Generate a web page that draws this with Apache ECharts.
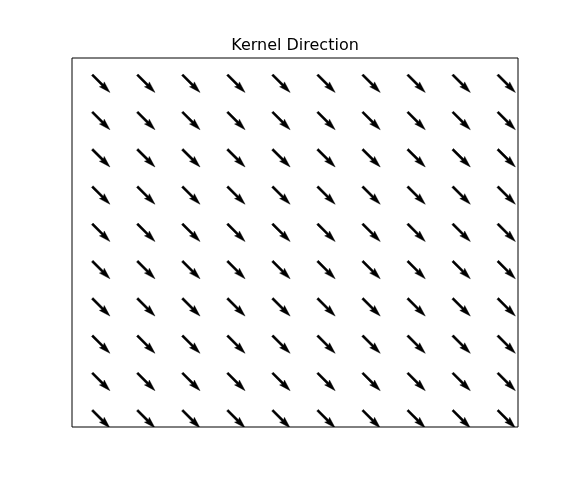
<!DOCTYPE html>
<html>
<head>
<meta charset="utf-8">
<script src="https://cdn.jsdelivr.net/npm/echarts@6/dist/echarts.min.js"></script>
<style>html,body{margin:0;padding:0;background:#fff;}#c{width:576px;height:480px;}</style>
</head>
<body>
<div id="c"></div>
<script>
const titleText = "Kernel Direction";
const xValues = [0, 1, 2, 3, 4, 5, 6, 7, 8, 9];
const yValues = [0, 1, 2, 3, 4, 5, 6, 7, 8, 9];
// U and V components: rows indexed by y, columns by x
const U = [
  [0.7071,0.7071,0.7071,0.7071,0.7071,0.7071,0.7071,0.7071,0.7071,0.7071],
  [0.7071,0.7071,0.7071,0.7071,0.7071,0.7071,0.7071,0.7071,0.7071,0.7071],
  [0.7071,0.7071,0.7071,0.7071,0.7071,0.7071,0.7071,0.7071,0.7071,0.7071],
  [0.7071,0.7071,0.7071,0.7071,0.7071,0.7071,0.7071,0.7071,0.7071,0.7071],
  [0.7071,0.7071,0.7071,0.7071,0.7071,0.7071,0.7071,0.7071,0.7071,0.7071],
  [0.7071,0.7071,0.7071,0.7071,0.7071,0.7071,0.7071,0.7071,0.7071,0.7071],
  [0.7071,0.7071,0.7071,0.7071,0.7071,0.7071,0.7071,0.7071,0.7071,0.7071],
  [0.7071,0.7071,0.7071,0.7071,0.7071,0.7071,0.7071,0.7071,0.7071,0.7071],
  [0.7071,0.7071,0.7071,0.7071,0.7071,0.7071,0.7071,0.7071,0.7071,0.7071],
  [0.7071,0.7071,0.7071,0.7071,0.7071,0.7071,0.7071,0.7071,0.7071,0.7071]
];
const V = [
  [-0.7071,-0.7071,-0.7071,-0.7071,-0.7071,-0.7071,-0.7071,-0.7071,-0.7071,-0.7071],
  [-0.7071,-0.7071,-0.7071,-0.7071,-0.7071,-0.7071,-0.7071,-0.7071,-0.7071,-0.7071],
  [-0.7071,-0.7071,-0.7071,-0.7071,-0.7071,-0.7071,-0.7071,-0.7071,-0.7071,-0.7071],
  [-0.7071,-0.7071,-0.7071,-0.7071,-0.7071,-0.7071,-0.7071,-0.7071,-0.7071,-0.7071],
  [-0.7071,-0.7071,-0.7071,-0.7071,-0.7071,-0.7071,-0.7071,-0.7071,-0.7071,-0.7071],
  [-0.7071,-0.7071,-0.7071,-0.7071,-0.7071,-0.7071,-0.7071,-0.7071,-0.7071,-0.7071],
  [-0.7071,-0.7071,-0.7071,-0.7071,-0.7071,-0.7071,-0.7071,-0.7071,-0.7071,-0.7071],
  [-0.7071,-0.7071,-0.7071,-0.7071,-0.7071,-0.7071,-0.7071,-0.7071,-0.7071,-0.7071],
  [-0.7071,-0.7071,-0.7071,-0.7071,-0.7071,-0.7071,-0.7071,-0.7071,-0.7071,-0.7071],
  [-0.7071,-0.7071,-0.7071,-0.7071,-0.7071,-0.7071,-0.7071,-0.7071,-0.7071,-0.7071]
];

const data = [];
yValues.forEach((y, j) => {
  xValues.forEach((x, i) => {
    data.push([x, y, U[j][i], V[j][i]]);
  });
});

const ARROW_SCALE = 25;   // pixels per unit of vector magnitude
const SHAFT_W = 2.3;

function renderArrow(params, api) {
  const x = api.value(0), y = api.value(1), u = api.value(2), v = api.value(3);
  const p = api.coord([x, y]);
  const mag = Math.sqrt(u * u + v * v);
  const L = mag * ARROW_SCALE;
  const ang = Math.atan2(-v, u);
  const w = SHAFT_W;
  const hl = 5 * w, hal = 4.5 * w, hw = 3 * w;
  const local = [
    [0, -w / 2], [L - hal, -w / 2], [L - hl, -hw / 2], [L, 0],
    [L - hl, hw / 2], [L - hal, w / 2], [0, w / 2]
  ];
  const c = Math.cos(ang), s = Math.sin(ang);
  const pts = local.map(q => [p[0] + q[0] * c - q[1] * s, p[1] + q[0] * s + q[1] * c]);
  return {
    type: 'polygon',
    shape: { points: pts },
    style: { fill: '#000', stroke: '#000', lineWidth: 0.4 }
  };
}

const chart = echarts.init(document.getElementById('c'), null, { renderer: 'canvas' });
chart.setOption({
  animation: false,
  backgroundColor: '#fff',
  graphic: [{
    type: 'text',
    x: 295,
    y: 54,
    style: {
      text: titleText,
      textAlign: 'center',
      textVerticalAlign: 'bottom',
      fontFamily: 'DejaVu Sans',
      fontSize: 16,
      fill: '#000'
    }
  }],
  grid: {
    left: 72, right: 58, top: 58, bottom: 53,
    show: true, borderColor: '#000', borderWidth: 1, backgroundColor: 'transparent'
  },
  xAxis: { type: 'value', min: -0.45, max: 9.45, show: false },
  yAxis: { type: 'value', min: -0.45, max: 9.45, show: false },
  series: [{
    type: 'custom',
    renderItem: renderArrow,
    data: data,
    clip: true
  }]
});
</script>
</body>
</html>
